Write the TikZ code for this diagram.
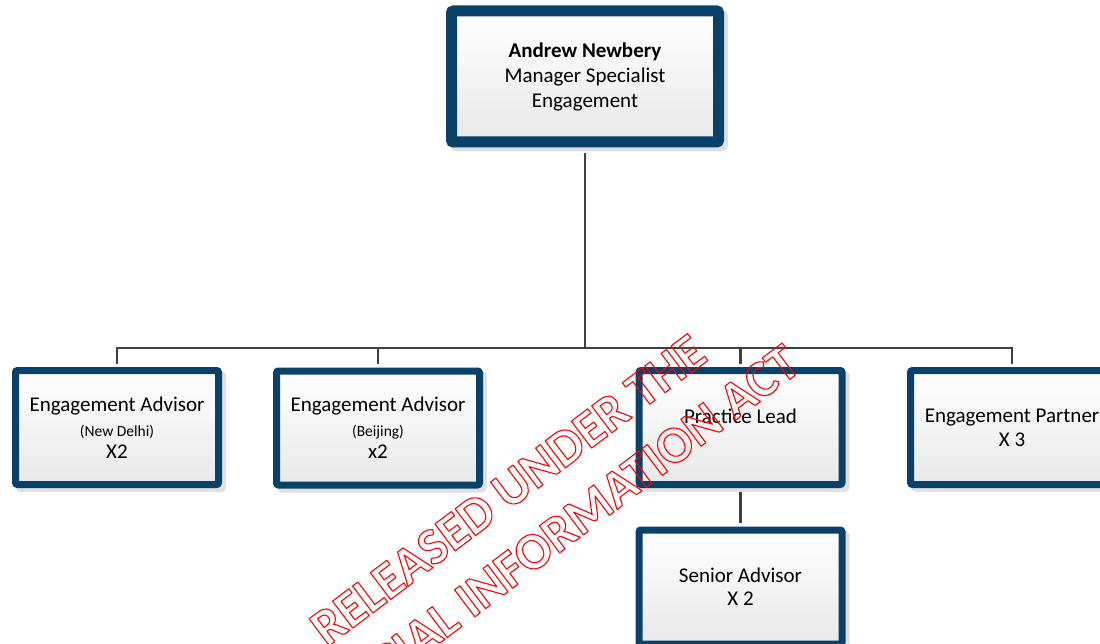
\documentclass[tikz,border=0pt]{standalone}
\usepackage{fontspec}
\setmainfont{Carlito}
\usetikzlibrary{shadows}
\definecolor{bordblue}{HTML}{0A4169}
\definecolor{conngray}{HTML}{404040}
\definecolor{wmred}{HTML}{FF0000}
\newcommand{\outlinetext}[1]{\special{pdf:literal direct 1 Tr 1.1 w 1 j}#1\special{pdf:literal direct 0 Tr}}
\begin{document}
\begin{tikzpicture}[x=1pt,y=-1pt,
  boxbase/.style={draw=bordblue, rounded corners=2pt, top color=white, bottom color=black!9,
    align=center, inner sep=0pt, font=\fontsize{21}{25}\selectfont},
  orgbox/.style={boxbase, line width=7pt, minimum width=203pt, minimum height=114pt,
    general shadow={shadow xshift=4pt, shadow yshift=-4pt, fill=black!12, draw=black!12, line width=7pt}},
  topbox/.style={boxbase, line width=11pt, minimum width=267pt, minimum height=131pt,
    general shadow={shadow xshift=4pt, shadow yshift=-4pt, fill=black!12, draw=black!12, line width=11pt}},
  conn/.style={draw=conngray, line width=2.6pt},
  wm/.style={text=wmred, font=\bfseries\fontsize{52}{62}\selectfont, inner sep=0pt}]
\useasboundingbox (0,0) rectangle (1100,644);
\clip (0,0) rectangle (1100,644);
\fill[white] (0,0) rectangle (1100,644);

\node[topbox] (top) at (585,76.5) {\textbf{Andrew Newbery}\\Manager Specialist\\Engagement};

\node[orgbox] (b1) at (117,427.5) {Engagement Advisor\\[0pt]{\fontsize{15.5}{18}\selectfont (New Delhi)}\\[-3pt]X2};
\node[orgbox] (b2) at (378,428) {Engagement Advisor\\[0pt]{\fontsize{15.5}{18}\selectfont (Beijing)}\\[-3pt]x2};
\node[orgbox] (b3) at (740.5,427.5) {Practice Lead\\[-2pt]\mbox{}};
\node[orgbox] (b4) at (1012,427.5) {Engagement Partner\\[-1pt]X 3};
\node[orgbox] (sa) at (740.5,587) {Senior Advisor\\[-2pt]X 2};

\coordinate (bus) at (585,348);
\draw[conn, shorten <=5.5pt] (top.south) -- (bus);
\draw[conn, shorten <=3.5pt, shorten >=3.5pt] (b1.north) |- (bus) -| (b4.north);
\draw[conn, shorten <=3.5pt] (b2.north) -- (b2.north |- bus);
\draw[conn, shorten <=3.5pt] (b3.north) -- (b3.north |- bus);
\draw[conn, shorten <=3.5pt, shorten >=3.5pt] (b3.south) -- (sa.north);

\node[wm, rotate=37] (wm1) at (508,490) {\outlinetext{RELEASED UNDER THE}};
\node[wm, rotate=37] (wm2) at (546,542) {\outlinetext{OFFICIAL INFORMATION ACT}};
\end{tikzpicture}
\end{document}
